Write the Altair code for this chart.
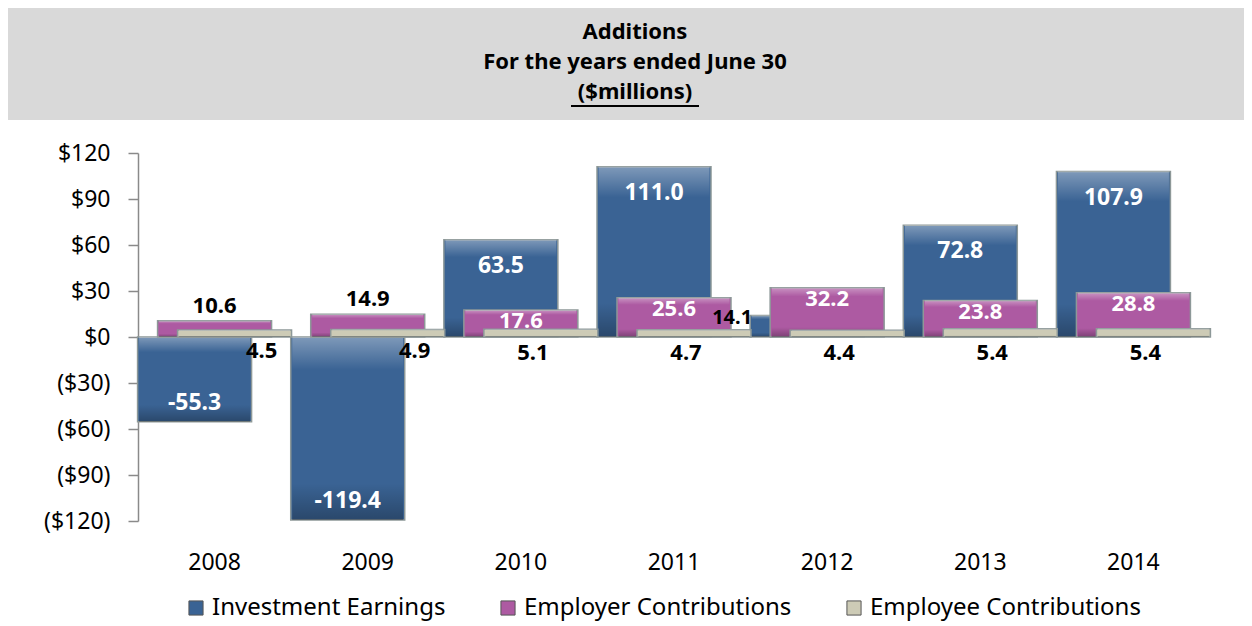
import altair as alt
import pandas as pd

YEARS = ["2008", "2009", "2010", "2011", "2012", "2013", "2014"]
INVESTMENT = [-55.3, -119.4, 63.5, 111.0, 14.1, 72.8, 107.9]
EMPLOYER = [10.6, 14.9, 17.6, 25.6, 32.2, 23.8, 28.8]
EMPLOYEE = [4.5, 4.9, 5.1, 4.7, 4.4, 5.4, 5.4]
SERIES = ["Investment Earnings", "Employer Contributions", "Employee Contributions"]
COLORS = ["#3a6394", "#ad5aa2", "#cdcbb6"]
TITLE_LINES = ["Additions", "For the years ended June 30", "($millions)"]
Y_TICKS = [-120, -90, -60, -30, 0, 30, 60, 90, 120]
# offset slots: empty slots either side so the three bars overlap in the middle
OFFSET_SLOTS = ["_l2", "_l1"] + SERIES + ["_r1", "_r2"]

FONT = "Noto Sans"

rows = []
for i, (s, vals) in enumerate(zip(SERIES, [INVESTMENT, EMPLOYER, EMPLOYEE])):
    for yr, v in zip(YEARS, vals):
        rows.append({"year": yr, "series": s, "value": v, "idx": i,
                     "label": f"{v:.1f}"})
df = pd.DataFrame(rows)

W, H = 1072, 368
BAR_W = 114

x_enc = alt.X("year:N", sort=YEARS,
              scale=alt.Scale(paddingInner=0, paddingOuter=0),
              axis=alt.Axis(title=None, labelAngle=0, domain=False, ticks=False,
                            labelPadding=30, labelFontSize=23, labelColor="#000",
                            labelFont=FONT, labelFontWeight="normal"))
xo_enc = alt.XOffset("series:N",
                     scale=alt.Scale(domain=OFFSET_SLOTS, paddingInner=0, paddingOuter=0.33))
yscale = alt.Scale(domain=[-120, 120], nice=False)
y_enc = alt.Y("value:Q", scale=yscale,
              axis=alt.Axis(values=Y_TICKS, grid=False, title=None,
                            labelExpr="datum.value < 0 ? '($' + format(-datum.value, 'd') + ')' : '$' + format(datum.value, 'd')",
                            labelFontSize=23, labelColor="#000", labelFont=FONT,
                            labelPadding=18, tickSize=10, tickColor="#8a8a8a",
                            domainColor="#8a8a8a", domainWidth=1.5, tickWidth=1.5))

color_enc = alt.Color("series:N", sort=SERIES,
                      scale=alt.Scale(domain=SERIES, range=COLORS),
                      legend=alt.Legend(title=None, orient="none", direction="horizontal",
                                        legendX=46, legendY=443,
                                        symbolType="square", symbolSize=200,
                                        symbolStrokeColor="#555", symbolStrokeWidth=1,
                                        labelFontSize=24, labelFont=FONT, labelColor="#000",
                                        labelLimit=400, columnPadding=50, labelOffset=4))

sheen = alt.LinearGradient(
    gradient="linear", x1=0, y1=0, x2=0, y2=1,
    stops=[alt.GradientStop(color="rgba(255,255,255,0.35)", offset=0),
           alt.GradientStop(color="rgba(255,255,255,0.0)", offset=0.18),
           alt.GradientStop(color="rgba(0,0,0,0.0)", offset=0.8),
           alt.GradientStop(color="rgba(0,0,0,0.28)", offset=1)])

base = alt.Chart(df)

layers = []
bg = alt.Chart(pd.DataFrame({"k": [0]})).mark_rect(color="#d9d9d9").encode(
    x=alt.value(-130), x2=alt.value(1106), y=alt.value(-145), y2=alt.value(-33))
layers.append(bg)
for t, yy in zip(TITLE_LINES, [-121, -91, -61]):
    layers.append(alt.Chart(pd.DataFrame({"t": [t]})).mark_text(
        font=FONT, fontSize=22, fontWeight="bold", color="#000", baseline="middle").encode(
        x=alt.value(497), y=alt.value(yy), text="t:N"))
layers.append(alt.Chart(pd.DataFrame({"k": [0]})).mark_rule(color="#000", strokeWidth=2).encode(
    x=alt.value(433), x2=alt.value(561), y=alt.value(-47)))

for s in SERIES:
    sub = base.transform_filter(alt.datum.series == s)
    layers.append(sub.mark_bar(width=BAR_W, stroke="#8d9898", strokeWidth=1.5).encode(
        x=x_enc, xOffset=xo_enc, y=y_enc, color=color_enc))
    layers.append(sub.mark_bar(width=BAR_W - 3, fill=sheen).encode(
        x=x_enc, xOffset=xo_enc, y=y_enc))

txt = dict(font=FONT, fontWeight="bold")
inv = base.transform_filter(alt.datum.series == SERIES[0])
emp = base.transform_filter(alt.datum.series == SERIES[1])
ee = base.transform_joinaggregate(minv="min(value)", groupby=["year"]).transform_filter(
    alt.datum.series == SERIES[2])

layers.append(inv.transform_filter("datum.value >= 20").mark_text(
    color="white", fontSize=23, baseline="middle", dy=26, **txt).encode(
    x=x_enc, xOffset=xo_enc, y=y_enc, text="label:N"))
layers.append(inv.transform_filter("datum.value <= -20").mark_text(
    color="white", fontSize=23, baseline="middle", dy=-19, **txt).encode(
    x=x_enc, xOffset=xo_enc, y=y_enc, text="label:N"))
layers.append(inv.transform_filter("abs(datum.value) < 20").mark_text(
    color="black", fontSize=20, baseline="middle", dx=-75, dy=3, **txt).encode(
    x=x_enc, xOffset=xo_enc, y=y_enc, text="label:N"))
layers.append(emp.transform_filter("datum.value < 16").mark_text(
    color="black", fontSize=22, baseline="bottom", dy=-3, **txt).encode(
    x=x_enc, xOffset=xo_enc, y=y_enc, text="label:N"))
layers.append(emp.transform_filter("datum.value >= 16").mark_text(
    color="white", fontSize=22, baseline="middle", dy=11, **txt).encode(
    x=x_enc, xOffset=xo_enc, y=y_enc, text="label:N"))
# employee labels: beside the negative investment bar, else under their own bar
layers.append(ee.transform_filter("datum.minv < 0").mark_text(
    color="black", fontSize=22, baseline="top", dx=27, dy=4, **txt).encode(
    x=x_enc, xOffset=xo_enc, y=alt.YDatum(0), text="label:N"))
layers.append(ee.transform_filter("datum.minv >= 0").mark_text(
    color="black", fontSize=22, baseline="top", dx=-8, dy=6, **txt).encode(
    x=x_enc, xOffset=xo_enc, y=alt.YDatum(0), text="label:N"))

chart = alt.layer(*layers).properties(
    width=W, height=H,
    padding={"left": 0, "top": 0, "right": 0, "bottom": 6}).configure(
    font=FONT).configure_view(strokeWidth=0, stroke="transparent")

chart.save("out.html", embed_options={"renderer": "svg", "actions": False})
